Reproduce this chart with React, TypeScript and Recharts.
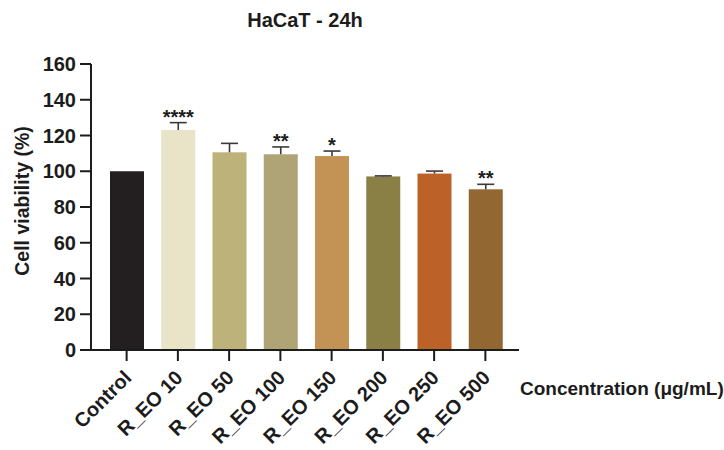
import { BarChart, Bar, XAxis, YAxis, Cell, Label } from 'recharts';

const categories = ['Control', 'R_EO 10', 'R_EO 50', 'R_EO 100', 'R_EO 150', 'R_EO 200', 'R_EO 250', 'R_EO 500'];
const viability = [100, 123.1, 110.6, 109.5, 108.5, 97.1, 98.7, 89.9];
const sem = [0, 4.1, 5.0, 4.1, 2.8, 0.3, 1.4, 2.8];
const stars = ['', '****', '', '**', '*', '', '', '**'];
const colors = ['#231f20', '#e9e4c8', '#bdb27a', '#aea476', '#c29354', '#8a7f45', '#bc6229', '#926731'];
const yTicks = [0, 20, 40, 60, 80, 100, 120, 140, 160];

const data = categories.map((name, i) => ({ name, value: viability[i], err: sem[i], star: stars[i] }));

const FONT = '"Liberation Sans", Arial, Helvetica, sans-serif';
const INK = '#1c1c1c';

const BarWithError = (props: any) => {
    const { x, y, width, height, fill, payload } = props;
    const cx = x + width / 2;
    const pxPerUnit = height / payload.value;
    const capY = y - payload.err * pxPerUnit;
    return (
        <g>
            <rect x={x} y={y} width={width} height={height} fill={fill} />
            {payload.err > 0 && (
                <g stroke="#3a3a3a" strokeWidth={1.6}>
                    <line x1={cx} x2={cx} y1={y} y2={capY} />
                    <line x1={cx - 8.5} x2={cx + 8.5} y1={capY} y2={capY} />
                </g>
            )}
            {payload.star && (
                <text x={cx} y={capY + 1} textAnchor="middle" fontFamily={FONT} fontWeight="bold" fontSize={20} fill={INK}>
                    {payload.star}
                </text>
            )}
        </g>
    );
};

const XTick = ({ x, y, payload }: any) => {
    const ax = x + 6;
    const ay = y + 16;
    return (
        <text x={ax} y={ay} transform={`rotate(-45, ${ax}, ${ay})`} textAnchor="end" fontFamily={FONT} fontWeight="bold" fontSize={20} fill={INK}>
            {payload.value}
        </text>
    );
};

export default function App() {
    return (
        <div style={{ position: 'absolute', left: 0, top: 0, width: 724, height: 450, background: '#fff' }}>
            <BarChart width={724} height={450} data={data} margin={{ top: 64, right: 205, bottom: 0, left: 0 }}>
                <XAxis
                    dataKey="name"
                    interval={0}
                    height={100}
                    padding={{ left: 10, right: 8 }}
                    tickSize={11}
                    tickLine={{ stroke: INK, strokeWidth: 2 }}
                    axisLine={{ stroke: INK, strokeWidth: 2 }}
                    tick={<XTick />}
                >
                    <Label
                        content={() => (
                            <text x={520} y={395} fontFamily={FONT} fontWeight="bold" fontSize={19} fill={INK}>
                                Concentration (μg/mL)
                            </text>
                        )}
                    />
                </XAxis>
                <YAxis
                    width={91}
                    domain={[0, 160]}
                    ticks={yTicks}
                    interval={0}
                    tickSize={11}
                    tickMargin={4}
                    tickLine={{ stroke: INK, strokeWidth: 2 }}
                    axisLine={{ stroke: INK, strokeWidth: 2 }}
                    tick={{ fontFamily: FONT, fontWeight: 'bold', fontSize: 20, fill: INK }}
                >
                    <Label
                        content={() => (
                            <g>
                                <text x={29} y={201} transform="rotate(-90, 29, 201)" textAnchor="middle" fontFamily={FONT} fontWeight="bold" fontSize={19.5} fill={INK}>
                                    Cell viability (%)
                                </text>
                                <text x={305} y={27} textAnchor="middle" fontFamily={FONT} fontWeight="bold" fontSize={20} fill={INK}>
                                    HaCaT - 24h
                                </text>
                            </g>
                        )}
                    />
                </YAxis>
                <Bar dataKey="value" barSize={34} shape={<BarWithError />} isAnimationActive={false}>
                    {data.map((d, i) => (
                        <Cell key={d.name} fill={colors[i]} />
                    ))}
                </Bar>
            </BarChart>
        </div>
    );
}
